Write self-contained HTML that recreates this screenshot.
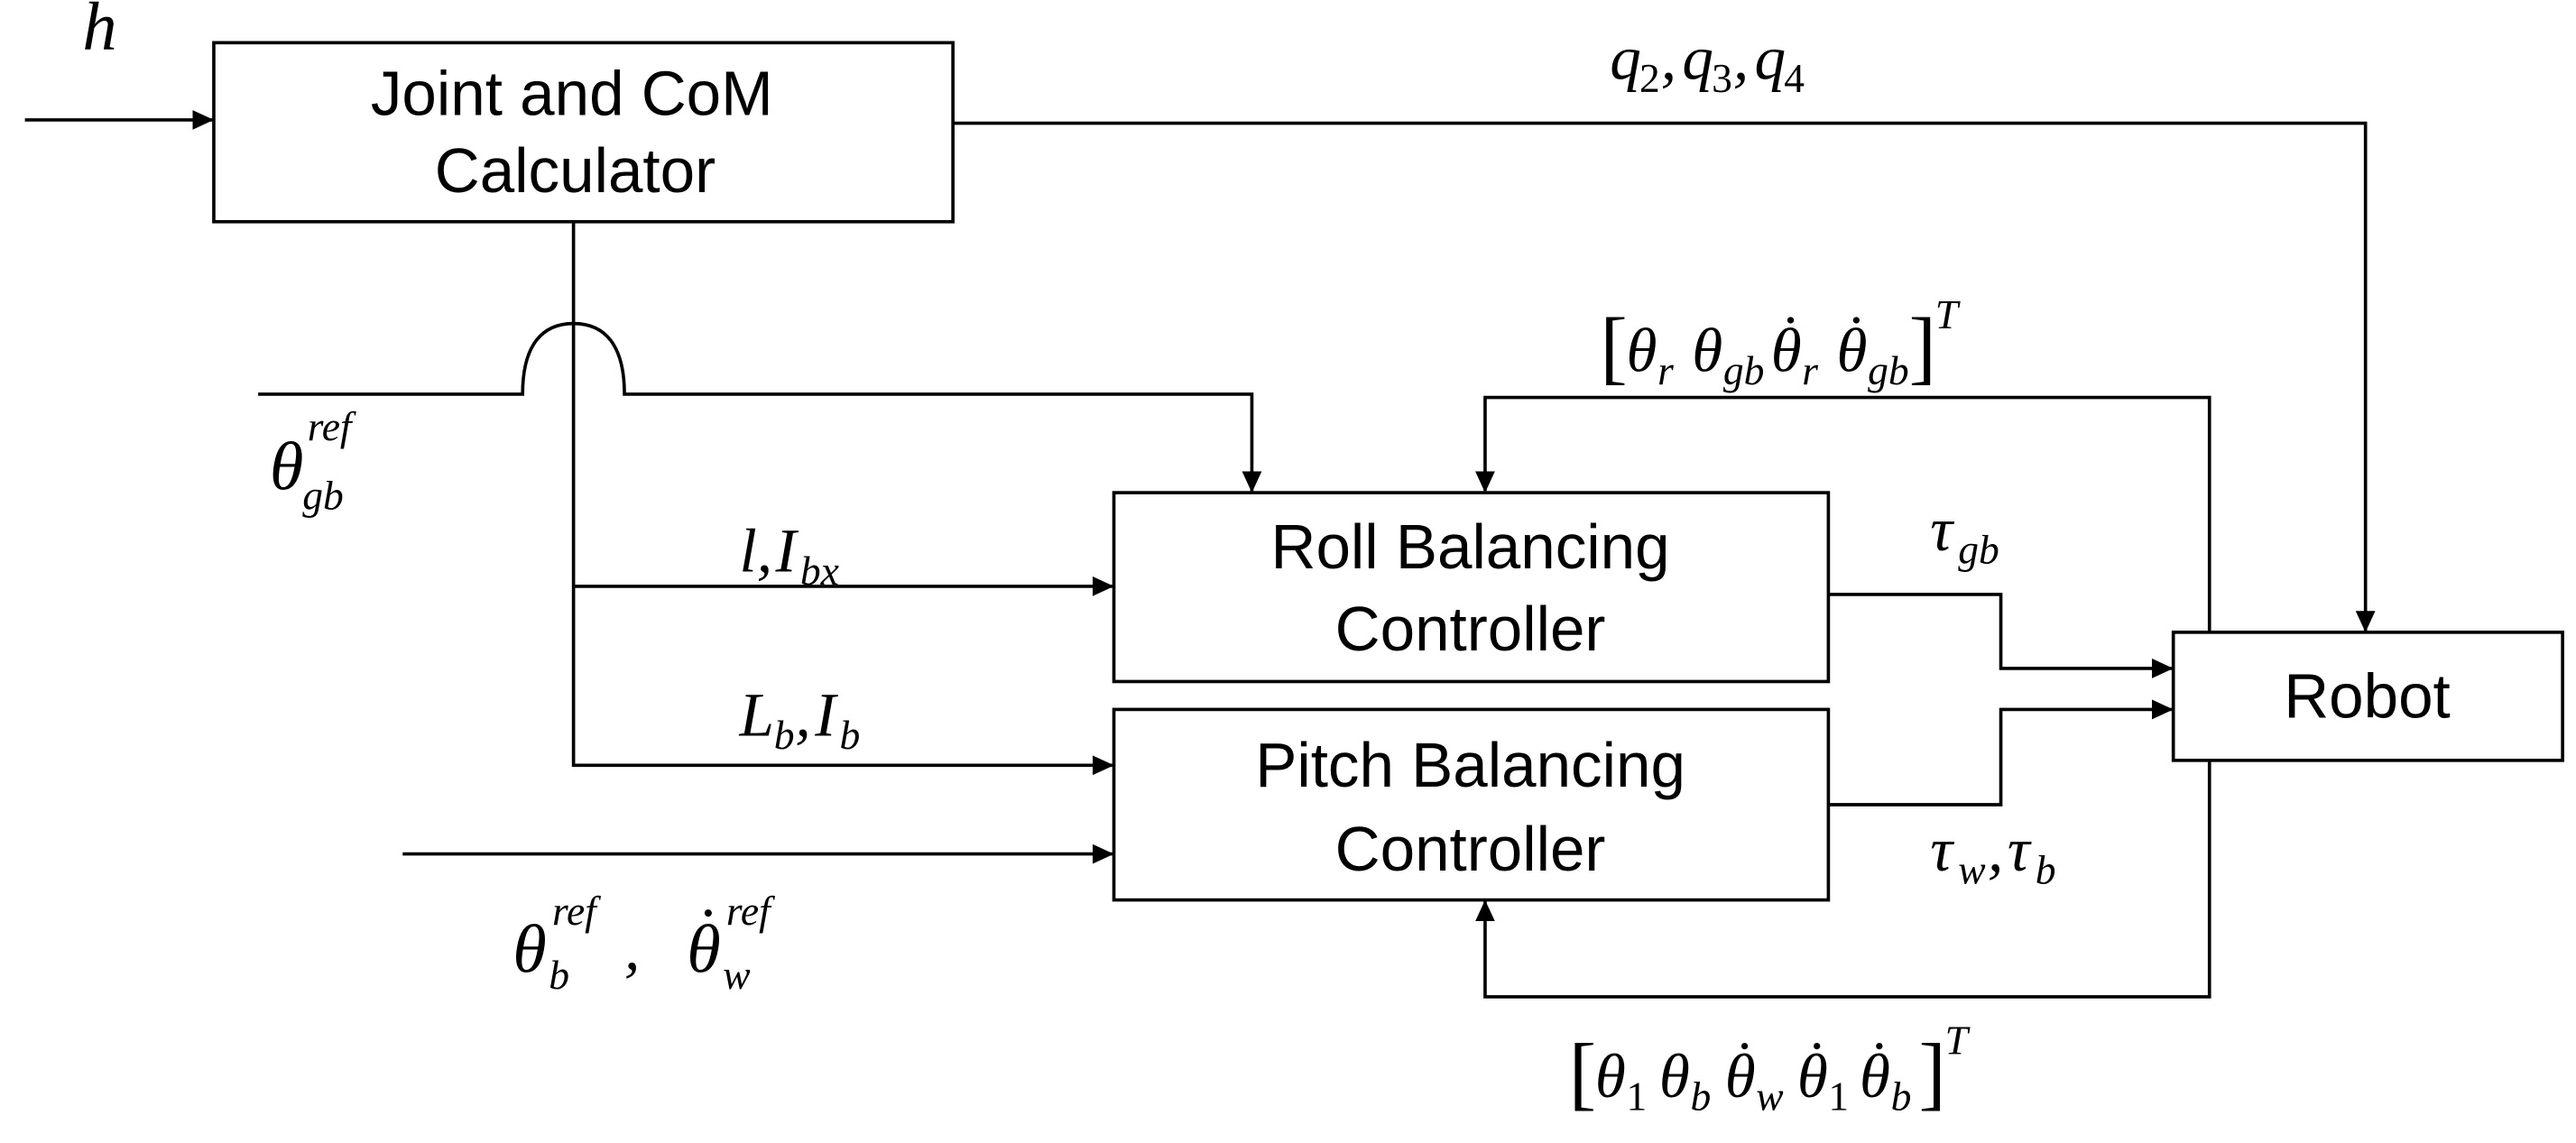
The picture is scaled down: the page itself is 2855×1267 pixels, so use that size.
<!DOCTYPE html>
<html><head><meta charset="utf-8"><style>
html,body{margin:0;padding:0;background:#fff;}
svg{display:block;}
.b{font-family:"Liberation Sans",sans-serif;font-size:38px;fill:#000;}
.m{font-family:"Liberation Serif",serif;font-style:italic;font-size:38px;fill:#000;}
.s{font-family:"Liberation Serif",serif;font-style:italic;font-size:25px;fill:#000;}
.n{font-family:"Liberation Serif",serif;font-size:25px;fill:#000;}
.br{font-family:"Liberation Serif",serif;font-size:50px;fill:#000;}
</style></head><body>
<svg width="2855" height="1267" viewBox="0 0 1568 696" xmlns="http://www.w3.org/2000/svg">
<defs><marker id="a" markerWidth="13" markerHeight="12" refX="12" refY="6" orient="auto" markerUnits="userSpaceOnUse"><path d="M0,0 L13,6 L0,12 z" fill="#000"/></marker></defs>
<g fill="none" stroke="#000" stroke-width="2">
<rect x="130" y="26" width="450" height="109"/>
<rect x="678" y="300" width="435" height="115"/>
<rect x="678" y="432" width="435" height="116"/>
<rect x="1323" y="385" width="237" height="78"/>
<line x1="15" y1="73" x2="129" y2="73" marker-end="url(#a)"/>
<polyline points="580,75 1440,75 1440,384" marker-end="url(#a)"/>
<polyline points="349,135 349,466 677,466" marker-end="url(#a)"/>
<line x1="349" y1="357" x2="677" y2="357" marker-end="url(#a)"/>
<path d="M157,240 L318,240 C318,210 330,197 349,197 C368,197 380,210 380,240 L762,240 L762,299" marker-end="url(#a)"/>
<polyline points="1345,385 1345,242 904,242 904,299" marker-end="url(#a)"/>
<polyline points="1113,362 1218,362 1218,407 1322,407" marker-end="url(#a)"/>
<polyline points="1113,490 1218,490 1218,432 1322,432" marker-end="url(#a)"/>
<polyline points="1345,463 1345,607 904,607 904,549" marker-end="url(#a)"/>
<line x1="245" y1="520" x2="677" y2="520" marker-end="url(#a)"/>
</g>
<text class="b" x="348" y="70" text-anchor="middle">Joint and CoM</text>
<text class="b" x="350" y="117" text-anchor="middle">Calculator</text>
<text class="b" x="895" y="346" text-anchor="middle">Roll Balancing</text>
<text class="b" x="895" y="396" text-anchor="middle">Controller</text>
<text class="b" x="895" y="479" text-anchor="middle">Pitch Balancing</text>
<text class="b" x="895" y="530" text-anchor="middle">Controller</text>
<text class="b" x="1441" y="437" text-anchor="middle">Robot</text>

<text class="m" x="50" y="30" style="font-size:42px">h</text>

<text class="m" x="980" y="48">q</text><text class="n" x="998" y="56">2</text><text class="m" x="1011" y="48">,</text>
<text class="m" x="1024" y="48">q</text><text class="n" x="1042" y="56">3</text><text class="m" x="1055" y="48">,</text>
<text class="m" x="1068" y="48">q</text><text class="n" x="1086" y="56">4</text>

<text class="m" x="164" y="298" style="font-size:42px">θ</text><text class="s" x="187" y="268">ref</text><text class="s" x="184" y="310">gb</text>

<text class="m" x="450" y="348">l,</text><text class="m" x="472" y="348">I</text><text class="s" x="487" y="356">bx</text>
<text class="m" x="450" y="448">L</text><text class="s" x="471" y="456">b</text><text class="m" x="484" y="448">,</text><text class="m" x="496" y="448">I</text><text class="s" x="511" y="456">b</text>

<text class="m" x="312" y="592" style="font-size:42px">θ</text><text class="s" x="336" y="563">ref</text><text class="s" x="334" y="602">b</text>
<text class="m" x="380" y="590">,</text>
<text class="m" x="418" y="592" style="font-size:42px">θ</text><circle cx="431" cy="556" r="2.2"/><text class="s" x="442" y="563">ref</text><text class="s" x="440" y="602">w</text>

<text class="m" x="1175" y="335">τ</text><text class="s" x="1192" y="343">gb</text>
<text class="m" x="1175" y="530">τ</text><text class="s" x="1192" y="538">w</text><text class="m" x="1210" y="530">,</text><text class="m" x="1222" y="530">τ</text><text class="s" x="1239" y="538">b</text>

<text class="br" x="974" y="228">[</text>
<text class="m" x="990" y="226">θ</text><text class="s" x="1009" y="234">r</text>
<text class="m" x="1030" y="226">θ</text><text class="s" x="1049" y="234">gb</text>
<text class="m" x="1078" y="226">θ</text><circle cx="1090" cy="195" r="2"/><text class="s" x="1097" y="234">r</text>
<text class="m" x="1118" y="226">θ</text><circle cx="1130" cy="195" r="2"/><text class="s" x="1137" y="234">gb</text>
<text class="br" x="1162" y="228">]</text><text class="s" x="1178" y="200">T</text>

<text class="br" x="955" y="670">[</text>
<text class="m" x="971" y="668">θ</text><text class="n" x="990" y="676">1</text>
<text class="m" x="1010" y="668">θ</text><text class="s" x="1029" y="676">b</text>
<text class="m" x="1050" y="668">θ</text><circle cx="1062" cy="637" r="2"/><text class="s" x="1069" y="676">w</text>
<text class="m" x="1094" y="668">θ</text><circle cx="1106" cy="637" r="2"/><text class="n" x="1113" y="676">1</text>
<text class="m" x="1132" y="668">θ</text><circle cx="1144" cy="637" r="2"/><text class="s" x="1151" y="676">b</text>
<text class="br" x="1168" y="670">]</text><text class="s" x="1184" y="642">T</text>
</svg>
</body></html>
